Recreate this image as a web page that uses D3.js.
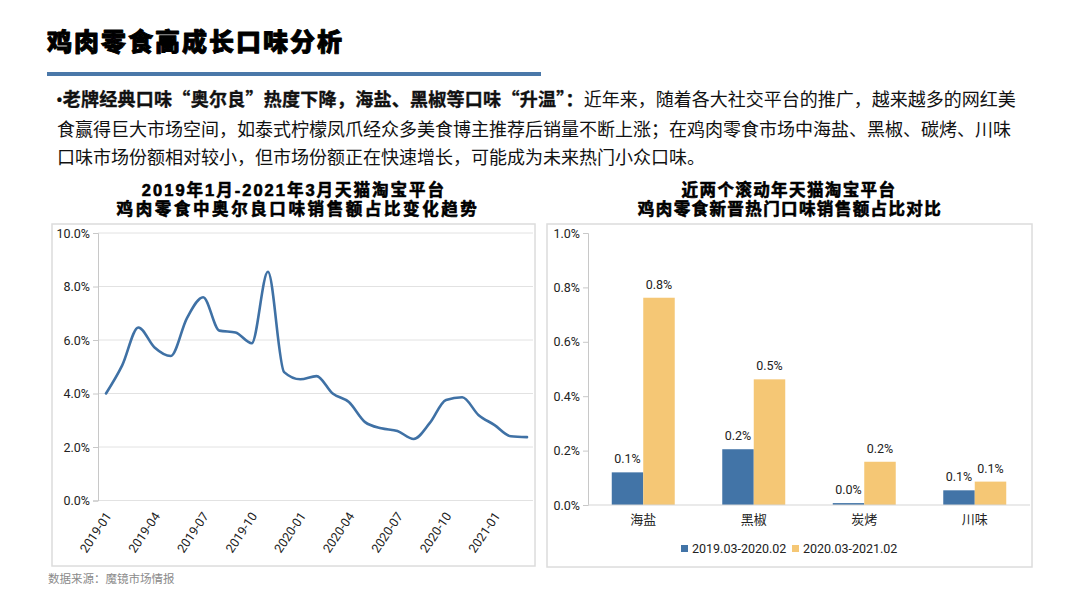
<!DOCTYPE html>
<html>
<head>
<meta charset="utf-8">
<script src="https://cdn.jsdelivr.net/npm/d3@7"></script>
<style>
  html, body { margin: 0; padding: 0; background: #fff; }
  svg { display: block; }
  .cjk { font-family: "Noto Sans CJK SC", sans-serif; }
  .num { font-family: Roboto, "Noto Sans CJK SC", sans-serif; }
  .ttl { font-family: "Liberation Sans", "Noto Sans CJK SC", sans-serif; }
</style>
</head>
<body>
<div id="chart"></div>
<script>
// ---- data ----
const months = [
  '2019-01', '2019-02', '2019-03', '2019-04', '2019-05', '2019-06', '2019-07', '2019-08', '2019-09',
  '2019-10', '2019-11', '2019-12', '2020-01', '2020-02', '2020-03', '2020-04', '2020-05', '2020-06',
  '2020-07', '2020-08', '2020-09', '2020-10', '2020-11', '2020-12', '2021-01', '2021-02', '2021-03',
];
const orleansShare = [
  4.0, 5.05, 6.47, 5.72, 5.4, 6.82, 7.6, 6.35, 6.28,
  5.88, 8.55, 4.8, 4.53, 4.65, 4.0, 3.68, 2.93, 2.7,
  2.6, 2.3, 2.9, 3.76, 3.86, 3.2, 2.82, 2.4, 2.37,
];
const monthTicks = ['2019-01', '2019-04', '2019-07', '2019-10', '2020-01', '2020-04', '2020-07', '2020-10', '2021-01'];
const lineYTicks = [0, 2, 4, 6, 8, 10];

const flavors = ['海盐', '黑椒', '炭烤', '川味'];
const periods = ['2019.03-2020.02', '2020.03-2021.02'];
const shareP1 = [0.12, 0.205, 0.007, 0.054];
const shareP2 = [0.762, 0.462, 0.159, 0.086];
const barYTicks = [0, 0.2, 0.4, 0.6, 0.8, 1.0];

const pageTitle = '鸡肉零食高成长口味分析';
const leadBold = '老牌经典口味“奥尔良”热度下降，海盐、黑椒等口味“升温”：';
const bodyLines = [
  '近年来，随着各大社交平台的推广，越来越多的网红美',
  '食赢得巨大市场空间，如泰式柠檬凤爪经众多美食博主推荐后销量不断上涨；在鸡肉零食市场中海盐、黑椒、碳烤、川味',
  '口味市场份额相对较小，但市场份额正在快速增长，可能成为未来热门小众口味。',
];
const leftTitle = ['2019年1月-2021年3月天猫淘宝平台', '鸡肉零食中奥尔良口味销售额占比变化趋势'];
const rightTitle = ['近两个滚动年天猫淘宝平台', '鸡肉零食新晋热门口味销售额占比对比'];
const source = '数据来源：魔镜市场情报';

// ---- style ----
const blue = '#4274a7';
const yellow = '#f5c775';
const grid = '#e2e2e2';
const axisGrey = '#c8c8c8';
const textDark = '#222';

const svg = d3.select('#chart')
  .append('svg')
  .attr('width', 1080)
  .attr('height', 610);

// ---- header ----
svg.append('text')
  .attr('class', 'cjk')
  .attr('x', 47)
  .attr('y', 51)
  .attr('font-size', 25)
  .attr('font-weight', 900)
  .attr('letter-spacing', 2)
  .attr('fill', '#000')
  .attr('stroke', '#000')
  .attr('stroke-width', 0.9)
  .attr('stroke-linejoin', 'round')
  .text(pageTitle);

svg.append('rect')
  .attr('x', 47)
  .attr('y', 72)
  .attr('width', 494)
  .attr('height', 4)
  .attr('fill', '#4a78a9');

const para = svg.append('g').attr('class', 'cjk').attr('font-size', 18).attr('fill', '#111');
const first = para.append('text').attr('x', 56).attr('y', 106);
first.append('tspan')
  .attr('font-family', 'Roboto, sans-serif')
  .attr('font-weight', 900)
  .text('•');
first.append('tspan')
  .attr('font-weight', 700)
  .attr('letter-spacing', 0.28)
  .attr('stroke', '#111')
  .attr('stroke-width', 0.35)
  .text(leadBold);
first.append('tspan').text(bodyLines[0]);
para.append('text').attr('x', 57).attr('y', 135.5).text(bodyLines[1]);
para.append('text').attr('x', 57).attr('y', 164).text(bodyLines[2]);

// ---- chart titles ----
function chartTitle(lines, cx, spacing) {
  const g = svg.append('g')
    .attr('class', 'ttl')
    .attr('font-size', 16.5)
    .attr('font-weight', 700)
    .attr('text-anchor', 'middle')
    .attr('fill', '#000')
    .attr('stroke', '#000')
    .attr('stroke-width', 0.6)
    .attr('stroke-linejoin', 'round');
  lines.forEach((t, i) => {
    g.append('text')
      .attr('x', cx[i])
      .attr('y', 196 + i * 19)
      .attr('letter-spacing', spacing[i])
      .text(t);
  });
}
chartTitle(leftTitle, [294, 298], [2.0, 2.6]);
chartTitle(rightTitle, [789, 790], [1.4, 1.4]);

// ---- panel frames ----
svg.append('rect')
  .attr('x', 52).attr('y', 224).attr('width', 483).attr('height', 342)
  .attr('fill', 'none').attr('stroke', '#dcdcdc').attr('stroke-width', 1.5);
svg.append('rect')
  .attr('x', 547).attr('y', 224).attr('width', 485).attr('height', 343)
  .attr('fill', 'none').attr('stroke', '#dcdcdc').attr('stroke-width', 1.5);

// ---- left: line chart ----
const lx = d3.scalePoint().domain(months).range([106, 527]);
const ly = d3.scaleLinear().domain([0, 10]).range([500.5, 233]);

const left = svg.append('g');

left.append('g')
  .selectAll('line')
  .data(lineYTicks)
  .join('line')
  .attr('x1', 98).attr('x2', 533)
  .attr('y1', d => ly(d)).attr('y2', d => ly(d))
  .attr('stroke', grid).attr('stroke-width', 1);

const lyAxis = left.append('g')
  .attr('transform', 'translate(98,0)')
  .call(d3.axisLeft(ly).tickValues(lineYTicks).tickSize(5).tickPadding(3)
    .tickFormat(d => d3.format('.1f')(d) + '%'));
lyAxis.select('.domain').attr('stroke', axisGrey);
lyAxis.selectAll('.tick line').attr('stroke', axisGrey);
lyAxis.selectAll('.tick text')
  .attr('class', 'num')
  .attr('font-size', 12.5)
  .attr('fill', textDark);

left.append('g')
  .selectAll('text')
  .data(monthTicks)
  .join('text')
  .attr('class', 'num')
  .attr('font-size', 12.5)
  .attr('fill', textDark)
  .attr('text-anchor', 'end')
  .attr('transform', d => `translate(${lx(d) + 6},516) rotate(-56)`)
  .text(d => d);

const line = d3.line()
  .curve(d3.curveMonotoneX)
  .x((d, i) => lx(months[i]))
  .y(d => ly(d));

left.append('path')
  .datum(orleansShare)
  .attr('d', line)
  .attr('fill', 'none')
  .attr('stroke', '#3f71a5')
  .attr('stroke-width', 2.6)
  .attr('stroke-linejoin', 'round')
  .attr('stroke-linecap', 'round');

// ---- right: grouped bars ----
const bx = d3.scaleBand().domain(flavors).range([588, 1030]).paddingInner(0.43).paddingOuter(0.215);
const bsub = d3.scaleBand().domain(periods).range([0, bx.bandwidth()]);
const by = d3.scaleLinear().domain([0, 1]).range([505, 233]);
const seriesValues = [shareP1, shareP2];
const seriesColors = [blue, yellow];

const right = svg.append('g');

const byAxis = right.append('g')
  .attr('transform', 'translate(588,0)')
  .call(d3.axisLeft(by).tickValues(barYTicks).tickSize(5).tickPadding(3)
    .tickFormat(d => d3.format('.1f')(d) + '%'));
byAxis.select('.domain').attr('stroke', axisGrey);
byAxis.selectAll('.tick line').attr('stroke', axisGrey);
byAxis.selectAll('.tick text')
  .attr('class', 'num')
  .attr('font-size', 12.5)
  .attr('fill', textDark);

const rows = flavors.flatMap((f, i) => periods.map((p, s) => ({ f, p, s, v: seriesValues[s][i] })));

right.append('g')
  .selectAll('rect')
  .data(rows)
  .join('rect')
  .attr('x', d => bx(d.f) + bsub(d.p))
  .attr('y', d => by(d.v))
  .attr('width', bsub.bandwidth())
  .attr('height', d => by(0) - by(d.v))
  .attr('fill', d => seriesColors[d.s]);

right.append('line')
  .attr('x1', 588).attr('x2', 1030)
  .attr('y1', by(0)).attr('y2', by(0))
  .attr('stroke', '#d6d6d6').attr('stroke-width', 1.2);

right.append('g')
  .selectAll('text')
  .data(rows)
  .join('text')
  .attr('class', 'num')
  .attr('font-size', 12.5)
  .attr('fill', textDark)
  .attr('text-anchor', 'middle')
  .attr('x', d => bx(d.f) + bsub(d.p) + bsub.bandwidth() / 2)
  .attr('y', d => by(d.v) - 9)
  .text(d => d3.format('.1f')(d.v) + '%');

right.append('g')
  .selectAll('text')
  .data(flavors)
  .join('text')
  .attr('class', 'cjk')
  .attr('font-size', 13)
  .attr('fill', textDark)
  .attr('text-anchor', 'middle')
  .attr('x', d => bx(d) + bx.bandwidth() / 2)
  .attr('y', 524)
  .text(d => d);

// legend
const legend = right.append('g').attr('transform', 'translate(681,548.5)');
const legendX = [0, 111];
periods.forEach((p, s) => {
  const item = legend.append('g').attr('transform', `translate(${legendX[s]},0)`);
  item.append('rect')
    .attr('x', 0).attr('y', -3.5).attr('width', 7).attr('height', 7)
    .attr('fill', seriesColors[s]);
  item.append('text')
    .attr('class', 'num')
    .attr('x', 11)
    .attr('y', 4.5)
    .attr('font-size', 12.5)
    .attr('fill', textDark)
    .text(p);
});

// ---- footer ----
svg.append('text')
  .attr('class', 'cjk')
  .attr('x', 48)
  .attr('y', 582.5)
  .attr('font-size', 11.5)
  .attr('fill', '#8a8a8a')
  .text(source);
</script>
</body>
</html>
